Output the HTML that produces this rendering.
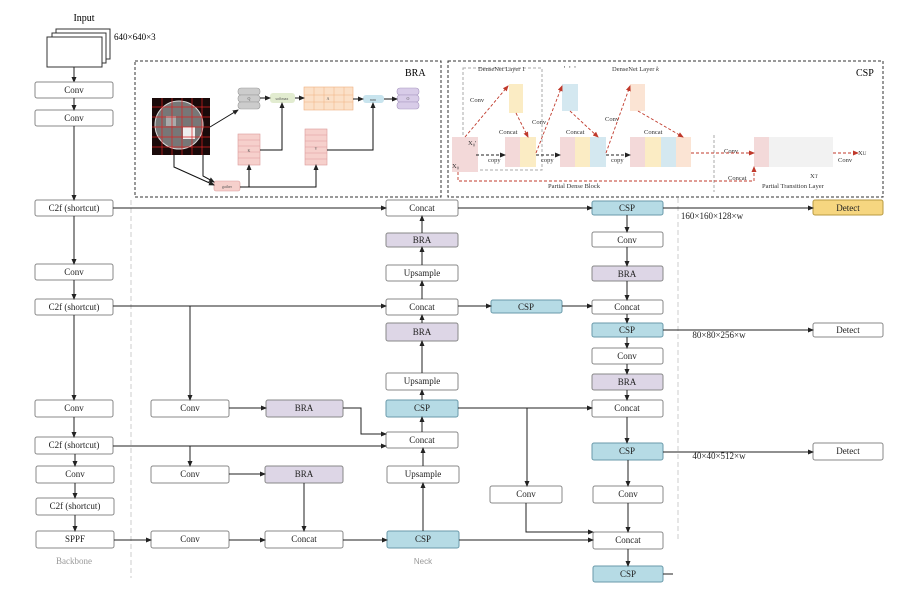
<!DOCTYPE html>
<html><head><meta charset="utf-8"><style>
html,body{margin:0;padding:0;background:#fff;}
svg{display:block;font-family:"Liberation Serif",serif;}
</style></head><body>
<svg width="924" height="601" viewBox="0 0 924 601" xmlns="http://www.w3.org/2000/svg">
<defs>
<marker id="a" markerWidth="6" markerHeight="6" refX="5" refY="3" orient="auto" markerUnits="userSpaceOnUse"><path d="M0,0.5 L6,3 L0,5.5z" fill="#222"/></marker>
<marker id="r" markerWidth="6" markerHeight="6" refX="5" refY="3" orient="auto" markerUnits="userSpaceOnUse"><path d="M0,0.5 L6,3 L0,5.5z" fill="#c0392b"/></marker>
</defs>
<rect width="924" height="601" fill="#fff"/>

<!-- dashed separators -->
<line x1="131" y1="200" x2="131" y2="578" stroke="#ccc" stroke-dasharray="5,3"/>
<line x1="678" y1="198" x2="678" y2="540" stroke="#ccc" stroke-dasharray="5,3"/>

<!-- input -->
<text x="84" y="21" font-size="10" text-anchor="middle">Input</text>
<text x="114" y="40" font-size="9">640×640×3</text>
<rect x="56" y="29" width="54" height="30" fill="#fff" stroke="#333"/>
<rect x="52" y="33" width="54" height="30" fill="#fff" stroke="#333"/>
<rect x="47" y="37" width="55" height="30" fill="#fff" stroke="#333"/>
<line x1="74" y1="67" x2="74" y2="82" stroke="#222" marker-end="url(#a)"/>

<g font-size="9" text-anchor="middle" stroke-width="1">
<!-- generic boxes -->
<g stroke="#888" fill="#fff">
<rect x="35" y="82" width="78" height="16" rx="2"/>
<rect x="35" y="110" width="78" height="16" rx="2"/>
<rect x="35" y="200" width="78" height="16" rx="2"/>
<rect x="35" y="264" width="78" height="16" rx="2"/>
<rect x="35" y="299" width="78" height="16" rx="2"/>
<rect x="35" y="400" width="78" height="17" rx="2"/>
<rect x="35" y="437" width="78" height="17" rx="2"/>
<rect x="36" y="466" width="78" height="17" rx="2"/>
<rect x="36" y="498" width="78" height="17" rx="2"/>
<rect x="36" y="531" width="78" height="17" rx="2"/>
<rect x="151" y="400" width="78" height="17" rx="2"/>
<rect x="151" y="466" width="78" height="17" rx="2"/>
<rect x="151" y="531" width="78" height="17" rx="2"/>
<rect x="265" y="531" width="78" height="17" rx="2"/>
<rect x="386" y="200" width="72" height="16" rx="2"/>
<rect x="386" y="265" width="72" height="16" rx="2"/>
<rect x="386" y="299" width="72" height="16" rx="2"/>
<rect x="386" y="373" width="72" height="17" rx="2"/>
<rect x="386" y="432" width="72" height="16" rx="2"/>
<rect x="387" y="466" width="72" height="17" rx="2"/>
<rect x="592" y="232" width="71" height="15" rx="2"/>
<rect x="592" y="300" width="71" height="14" rx="2"/>
<rect x="592" y="348" width="71" height="16" rx="2"/>
<rect x="592" y="400" width="71" height="17" rx="2"/>
<rect x="593" y="486" width="70" height="17" rx="2"/>
<rect x="593" y="532" width="70" height="17" rx="2"/>
<rect x="490" y="486" width="72" height="17" rx="2"/>
<rect x="813" y="323" width="70" height="14" rx="2"/>
<rect x="813" y="443" width="70" height="17" rx="2"/>
</g>
<g stroke="#888" fill="#ddd6e6">
<rect x="266" y="400" width="77" height="17" rx="2"/>
<rect x="265" y="466" width="78" height="17" rx="2"/>
<rect x="386" y="233" width="72" height="14" rx="2"/>
<rect x="386" y="323" width="72" height="18" rx="2"/>
<rect x="592" y="266" width="71" height="15" rx="2"/>
<rect x="592" y="374" width="71" height="16" rx="2"/>
</g>
<g stroke="#6a9aaa" fill="#b6dbe5">
<rect x="386" y="400" width="72" height="17" rx="2"/>
<rect x="387" y="531" width="72" height="17" rx="2"/>
<rect x="592" y="201" width="71" height="14" rx="2"/>
<rect x="592" y="323" width="71" height="14" rx="2"/>
<rect x="592" y="443" width="71" height="17" rx="2"/>
<rect x="593" y="566" width="70" height="16" rx="2"/>
<rect x="491" y="300" width="71" height="13" rx="2"/>
</g>
<rect x="813" y="200" width="70" height="15" rx="2" fill="#f6d680" stroke="#b89a40"/>

<g fill="#222">
<text x="74" y="93">Conv</text><text x="74" y="121">Conv</text>
<text x="74" y="211">C2f (shortcut)</text><text x="74" y="275">Conv</text>
<text x="74" y="310">C2f (shortcut)</text><text x="74" y="411">Conv</text>
<text x="74" y="448">C2f (shortcut)</text><text x="75" y="477">Conv</text>
<text x="75" y="509">C2f (shortcut)</text><text x="75" y="542">SPPF</text>
<text x="190" y="411">Conv</text><text x="190" y="477">Conv</text><text x="190" y="542">Conv</text>
<text x="304" y="411">BRA</text><text x="304" y="477">BRA</text><text x="304" y="542">Concat</text>
<text x="422" y="211">Concat</text><text x="422" y="243">BRA</text><text x="422" y="276">Upsample</text>
<text x="422" y="310">Concat</text><text x="422" y="335">BRA</text><text x="422" y="384">Upsample</text>
<text x="422" y="411">CSP</text><text x="422" y="443">Concat</text><text x="423" y="477">Upsample</text>
<text x="423" y="542">CSP</text>
<text x="627" y="211">CSP</text><text x="627" y="243">Conv</text><text x="627" y="277">BRA</text>
<text x="627" y="310">Concat</text><text x="627" y="333">CSP</text><text x="627" y="359">Conv</text>
<text x="627" y="385">BRA</text><text x="627" y="411">Concat</text><text x="627" y="454">CSP</text>
<text x="628" y="497">Conv</text><text x="628" y="543">Concat</text><text x="628" y="577">CSP</text>
<text x="526" y="497">Conv</text><text x="526" y="310">CSP</text>
<text x="848" y="211">Detect</text><text x="848" y="333">Detect</text><text x="848" y="454">Detect</text>
</g>
<text x="74" y="564" fill="#999">Backbone</text>
<text x="423" y="564" fill="#999" font-family="Liberation Sans,sans-serif" font-size="8">Neck</text>
<text x="712" y="219" fill="#222">160×160×128×w</text>
<text x="719" y="338" fill="#222">80×80×256×w</text>
<text x="719" y="459" fill="#222">40×40×512×w</text>
</g>

<!-- connectors -->
<g stroke="#222" fill="none" stroke-width="1">
<line x1="74" y1="98" x2="74" y2="110" marker-end="url(#a)"/>
<line x1="74" y1="126" x2="74" y2="200" marker-end="url(#a)"/>
<line x1="74" y1="216" x2="74" y2="264" marker-end="url(#a)"/>
<line x1="74" y1="280" x2="74" y2="299" marker-end="url(#a)"/>
<line x1="74" y1="315" x2="74" y2="400" marker-end="url(#a)"/>
<line x1="74" y1="417" x2="74" y2="437" marker-end="url(#a)"/>
<line x1="75" y1="454" x2="75" y2="466" marker-end="url(#a)"/>
<line x1="75" y1="483" x2="75" y2="498" marker-end="url(#a)"/>
<line x1="75" y1="515" x2="75" y2="531" marker-end="url(#a)"/>
<line x1="113" y1="208" x2="386" y2="208" marker-end="url(#a)"/>
<line x1="458" y1="208" x2="592" y2="208" marker-end="url(#a)"/>
<line x1="663" y1="208" x2="813" y2="208" marker-end="url(#a)"/>
<line x1="113" y1="306" x2="386" y2="306" marker-end="url(#a)"/>
<line x1="190" y1="306" x2="190" y2="400" marker-end="url(#a)"/>
<line x1="113" y1="446" x2="386" y2="446" marker-end="url(#a)"/>
<line x1="190" y1="446" x2="190" y2="466" marker-end="url(#a)"/>
<line x1="114" y1="540" x2="151" y2="540" marker-end="url(#a)"/>
<line x1="229" y1="540" x2="265" y2="540" marker-end="url(#a)"/>
<line x1="343" y1="540" x2="387" y2="540" marker-end="url(#a)"/>
<line x1="229" y1="408" x2="266" y2="408" marker-end="url(#a)"/>
<line x1="229" y1="474" x2="265" y2="474" marker-end="url(#a)"/>
<polyline points="343,408 361,408 361,434 386,434" marker-end="url(#a)"/>
<line x1="304" y1="483" x2="304" y2="531" marker-end="url(#a)"/>
<line x1="422" y1="233" x2="422" y2="216" marker-end="url(#a)"/>
<line x1="422" y1="265" x2="422" y2="247" marker-end="url(#a)"/>
<line x1="422" y1="299" x2="422" y2="281" marker-end="url(#a)"/>
<line x1="422" y1="323" x2="422" y2="315" marker-end="url(#a)"/>
<line x1="422" y1="373" x2="422" y2="341" marker-end="url(#a)"/>
<line x1="422" y1="400" x2="422" y2="390" marker-end="url(#a)"/>
<line x1="422" y1="432" x2="422" y2="417" marker-end="url(#a)"/>
<line x1="423" y1="466" x2="423" y2="448" marker-end="url(#a)"/>
<line x1="423" y1="531" x2="423" y2="483" marker-end="url(#a)"/>
<line x1="458" y1="306" x2="491" y2="306" marker-end="url(#a)"/>
<line x1="562" y1="306" x2="592" y2="306" marker-end="url(#a)"/>
<line x1="458" y1="408" x2="592" y2="408" marker-end="url(#a)"/>
<line x1="527" y1="408" x2="527" y2="486" marker-end="url(#a)"/>
<polyline points="526,503 526,532 593,532" marker-end="url(#a)"/>
<line x1="459" y1="540" x2="593" y2="540" marker-end="url(#a)"/>
<line x1="627" y1="215" x2="627" y2="232" marker-end="url(#a)"/>
<line x1="627" y1="247" x2="627" y2="266" marker-end="url(#a)"/>
<line x1="627" y1="281" x2="627" y2="300" marker-end="url(#a)"/>
<line x1="627" y1="314" x2="627" y2="323" marker-end="url(#a)"/>
<line x1="627" y1="337" x2="627" y2="348" marker-end="url(#a)"/>
<line x1="627" y1="364" x2="627" y2="374" marker-end="url(#a)"/>
<line x1="627" y1="390" x2="627" y2="400" marker-end="url(#a)"/>
<line x1="627" y1="417" x2="627" y2="443" marker-end="url(#a)"/>
<line x1="628" y1="460" x2="628" y2="486" marker-end="url(#a)"/>
<line x1="628" y1="503" x2="628" y2="532" marker-end="url(#a)"/>
<line x1="628" y1="549" x2="628" y2="566" marker-end="url(#a)"/>
<line x1="663" y1="330" x2="813" y2="330" marker-end="url(#a)"/>
<line x1="663" y1="452" x2="813" y2="452" marker-end="url(#a)"/>
<line x1="663" y1="574" x2="673" y2="574"/>
</g>

<!-- BRA panel -->
<rect x="135" y="61" width="306" height="136" fill="none" stroke="#333" stroke-dasharray="3,2"/>
<text x="405" y="76" font-size="10">BRA</text>
<rect x="152" y="98" width="58" height="57" fill="#1a0a0a"/>
<circle cx="179" cy="125" r="24" fill="#777" stroke="#ddd"/>
<rect x="183" y="127" width="12" height="12" fill="#eee"/>
<rect x="166" y="116" width="10" height="10" fill="#aaa"/>
<g stroke="#d22" stroke-width="0.7">
<line x1="152" y1="107" x2="210" y2="107"/><line x1="152" y1="117" x2="210" y2="117"/><line x1="152" y1="127" x2="210" y2="127"/><line x1="152" y1="137" x2="210" y2="137"/><line x1="152" y1="147" x2="210" y2="147"/>
<line x1="162" y1="98" x2="162" y2="155"/><line x1="172" y1="98" x2="172" y2="155"/><line x1="182" y1="98" x2="182" y2="155"/><line x1="192" y1="98" x2="192" y2="155"/><line x1="202" y1="98" x2="202" y2="155"/>
</g>
<g fill="#ccc" stroke="#999" stroke-width="0.6">
<rect x="238" y="88" width="22" height="7" rx="3"/><rect x="238" y="95" width="22" height="7" rx="3"/><rect x="238" y="102" width="22" height="7" rx="3"/>
</g>
<g fill="#f6d0cc" stroke="#d99" stroke-width="0.6">
<rect x="238" y="134" width="22" height="31"/><rect x="305" y="129" width="22" height="36"/>
<line x1="238" y1="140" x2="260" y2="140"/><line x1="238" y1="146" x2="260" y2="146"/><line x1="238" y1="152" x2="260" y2="152"/><line x1="238" y1="158" x2="260" y2="158"/>
<line x1="305" y1="135" x2="327" y2="135"/><line x1="305" y1="141" x2="327" y2="141"/><line x1="305" y1="147" x2="327" y2="147"/><line x1="305" y1="153" x2="327" y2="153"/><line x1="305" y1="159" x2="327" y2="159"/>
<rect x="214" y="181" width="26" height="10" rx="2"/>
</g>
<rect x="270" y="93" width="25" height="10" rx="3" fill="#e2ecd0"/>
<rect x="304" y="87" width="49" height="23" fill="#fbe0c8" stroke="#f0b080" stroke-width="0.6"/>
<g stroke="#f0b080" stroke-width="0.5"><line x1="304" y1="95" x2="353" y2="95"/><line x1="304" y1="102" x2="353" y2="102"/><line x1="314" y1="87" x2="314" y2="110"/><line x1="324" y1="87" x2="324" y2="110"/><line x1="334" y1="87" x2="334" y2="110"/><line x1="344" y1="87" x2="344" y2="110"/></g>
<rect x="363" y="95" width="21" height="8" rx="3" fill="#c8e4ee"/>
<g fill="#d8cce8" stroke="#a898c0" stroke-width="0.6"><rect x="397" y="88" width="22" height="7" rx="3"/><rect x="397" y="95" width="22" height="7" rx="3"/><rect x="397" y="102" width="22" height="7" rx="3"/></g>
<g font-size="4" fill="#555" text-anchor="middle"><text x="227" y="188">gather</text><text x="282" y="100">softmax</text><text x="373" y="101">mm</text><text x="249" y="100">Q</text><text x="249" y="152">K</text><text x="316" y="150">V</text><text x="328" y="100">A</text><text x="408" y="100">O</text></g>
<g stroke="#111" fill="none" stroke-width="1">
<line x1="260" y1="98" x2="270" y2="98" marker-end="url(#a)"/><line x1="295" y1="98" x2="304" y2="98" marker-end="url(#a)"/>
<line x1="353" y1="99" x2="363" y2="99" marker-end="url(#a)"/><line x1="384" y1="99" x2="397" y2="99" marker-end="url(#a)"/>
<line x1="210" y1="127" x2="238" y2="110" marker-end="url(#a)"/>
<polyline points="260,150 282,150 282,103" marker-end="url(#a)"/>
<polyline points="327,150 373,150 373,103" marker-end="url(#a)"/>
<polyline points="174,155 174,167 214,185" marker-end="url(#a)"/>
<polyline points="203,155 203,176 214,182" marker-end="url(#a)"/>
<polyline points="240,187 316,187 316,165" marker-end="url(#a)"/><line x1="249" y1="187" x2="249" y2="165" marker-end="url(#a)"/>
</g>

<!-- CSP panel -->
<rect x="448" y="61" width="435" height="136" fill="none" stroke="#333" stroke-dasharray="3,2"/>
<text x="856" y="76" font-size="10">CSP</text>
<rect x="463" y="68" width="79" height="102" fill="none" stroke="#aaa" stroke-dasharray="3,2"/>
<rect x="452" y="137" width="26" height="35" fill="#f3d9d9"/>
<rect x="509" y="84" width="14" height="29" fill="#fbecc4"/>
<rect x="505" y="137" width="15" height="30" fill="#f3d9d9"/><rect x="520" y="137" width="16" height="30" fill="#fbecc4"/>
<rect x="562" y="84" width="16" height="27" fill="#d4e8f0"/>
<rect x="560" y="137" width="15" height="30" fill="#f3d9d9"/><rect x="575" y="137" width="15" height="30" fill="#fbecc4"/><rect x="590" y="137" width="16" height="30" fill="#d4e8f0"/>
<rect x="630" y="84" width="15" height="27" fill="#fbe4d4"/>
<rect x="630" y="137" width="15" height="30" fill="#f3d9d9"/><rect x="645" y="137" width="16" height="30" fill="#fbecc4"/><rect x="661" y="137" width="15" height="30" fill="#d4e8f0"/><rect x="676" y="137" width="15" height="30" fill="#fbe4d4"/>
<rect x="754" y="137" width="15" height="30" fill="#f3d9d9"/><rect x="769" y="137" width="64" height="30" fill="#f2f2f2"/>
<line x1="714" y1="135" x2="714" y2="192" stroke="#aaa" stroke-dasharray="3,2"/>
<g font-size="6.5" fill="#333">
<text x="478" y="71">DenseNet Layer 1</text><text x="612" y="71">DenseNet Layer <tspan font-style="italic">k</tspan></text>
<text x="563" y="70" font-size="9">· · ·</text>
<text x="470" y="102">Conv</text><text x="532" y="124">Conv</text><text x="605" y="121">Conv</text>
<text x="499" y="134">Concat</text><text x="566" y="134">Concat</text><text x="644" y="134">Concat</text>
<text x="468" y="145">X₀'</text><text x="452" y="168">X₀</text>
<text x="488" y="162">copy</text><text x="541" y="162">copy</text><text x="611" y="162">copy</text>
<text x="724" y="153">Conv</text><text x="838" y="162">Conv</text><text x="858" y="155">X<tspan font-size="5">U</tspan></text>
<text x="728" y="180">Concat</text><text x="810" y="178">X<tspan font-size="5">T</tspan></text>
<text x="548" y="188">Partial Dense Block</text><text x="762" y="188">Partial Transition Layer</text>
</g>
<g fill="none" stroke-width="0.9">
<g stroke="#c0392b" stroke-dasharray="3,2">
<line x1="465" y1="137" x2="508" y2="86" marker-end="url(#r)"/><line x1="516" y1="113" x2="528" y2="137" marker-end="url(#r)"/>
<line x1="536" y1="153" x2="562" y2="86" marker-end="url(#r)"/><line x1="570" y1="111" x2="598" y2="137" marker-end="url(#r)"/>
<line x1="606" y1="153" x2="630" y2="86" marker-end="url(#r)"/><line x1="638" y1="111" x2="683" y2="137" marker-end="url(#r)"/>
<line x1="691" y1="153" x2="754" y2="153" marker-end="url(#r)"/><line x1="833" y1="153" x2="858" y2="153" marker-end="url(#r)"/>
<polyline points="458,172 458,181 754,181 754,167" marker-end="url(#r)"/>
</g>
<g stroke="#222" stroke-dasharray="3,2">
<line x1="476" y1="155" x2="505" y2="155" marker-end="url(#a)"/><line x1="536" y1="155" x2="560" y2="155" marker-end="url(#a)"/><line x1="606" y1="155" x2="630" y2="155" marker-end="url(#a)"/>
</g>
</g>
</svg>
</body></html>
